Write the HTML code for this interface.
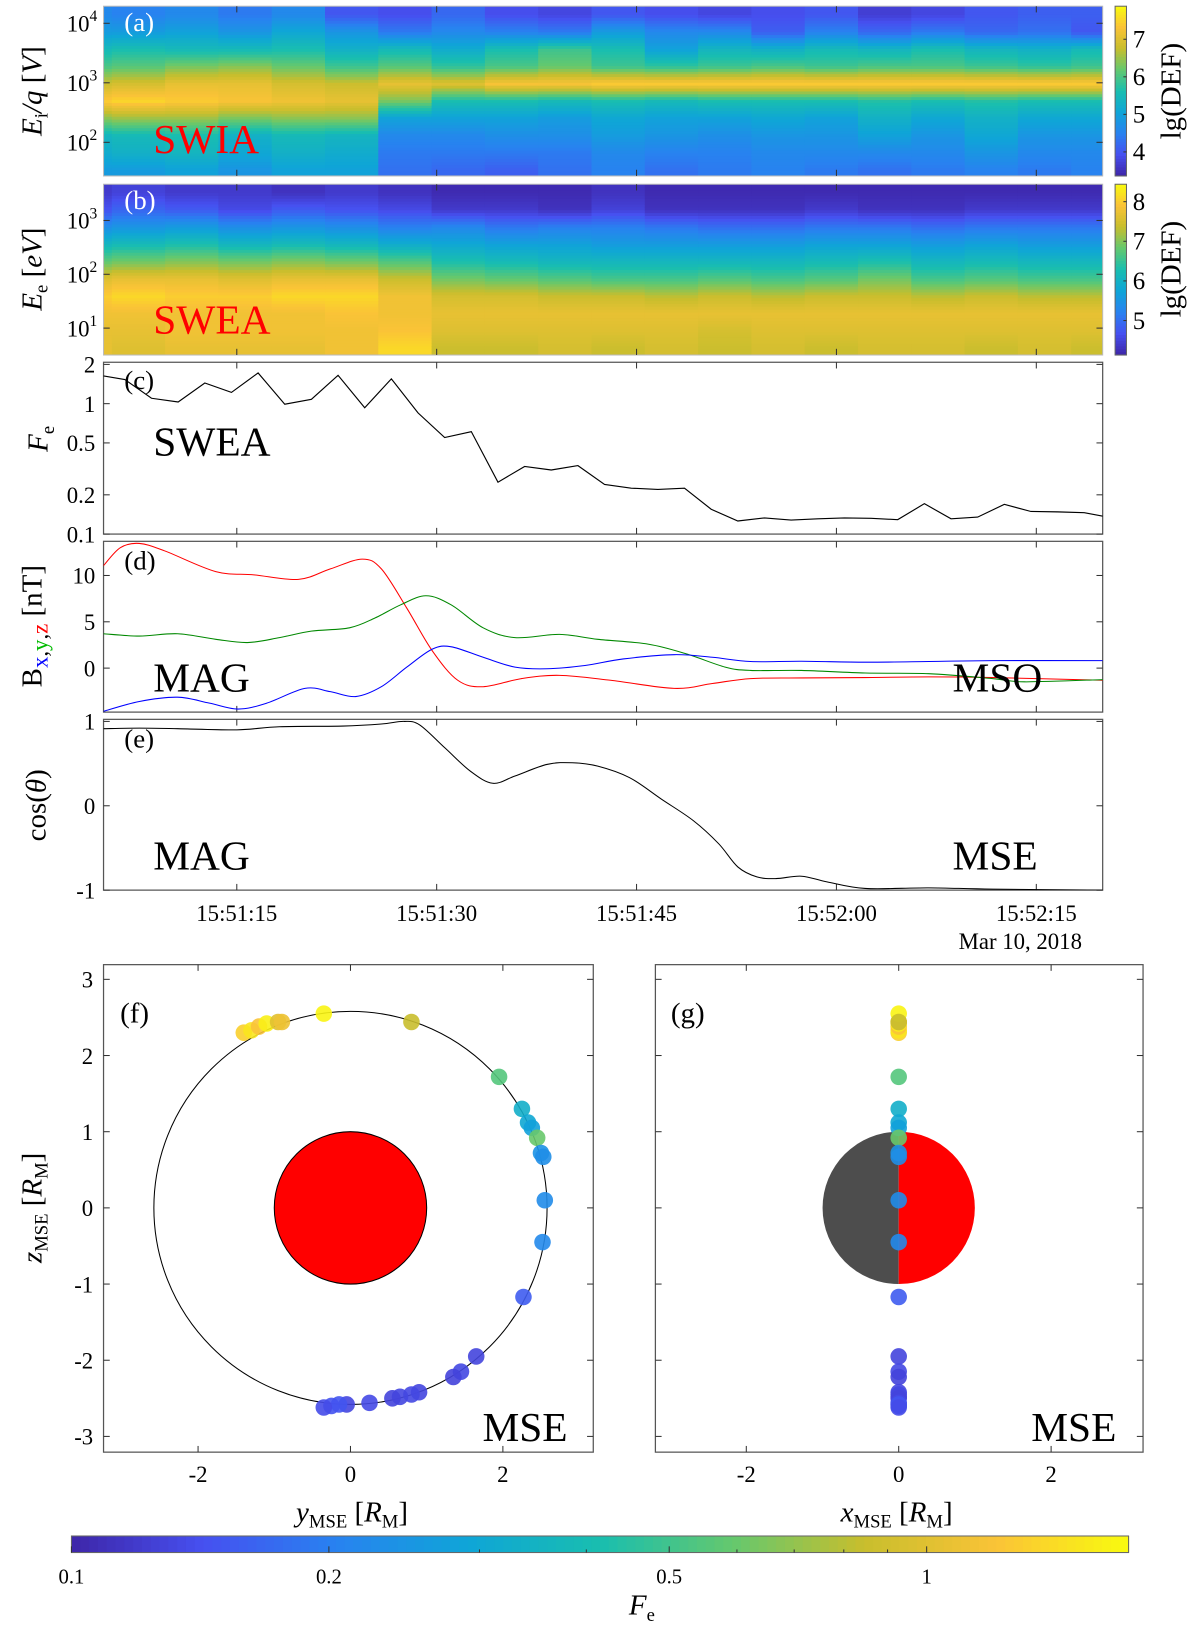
<!DOCTYPE html>
<html><head><meta charset="utf-8">
<style>
html,body{margin:0;padding:0;background:#fff;}
svg{display:block;font-family:"Liberation Serif",serif;}
</style></head>
<body>
<svg id="fig" xmlns="http://www.w3.org/2000/svg" width="1200" height="1625" viewBox="0 0 1159 1570" preserveAspectRatio="none">
<g id="g-a"></g>
<g id="g-b"></g>
<g id="g-cb"></g>
<g id="g-c"></g>
<g id="g-d"></g>
<g id="g-e"></g>
<g id="g-f"></g>
<g id="g-g"></g>
<g id="g-txt">
 <text x="120" y="30" font-size="26" fill="#fff">(a)</text>
 <text x="148" y="148" font-size="40" fill="#f00">SWIA</text>
 <text x="120" y="202" font-size="26" fill="#fff">(b)</text>
 <text x="148" y="322" font-size="40" fill="#f00">SWEA</text>
 <text x="120" y="376" font-size="26">(c)</text>
 <text x="148" y="440" font-size="40">SWEA</text>
 <text x="120" y="550" font-size="26">(d)</text>
 <text x="148" y="668" font-size="40">MAG</text>
 <text x="920" y="668" font-size="40">MSO</text>
 <text x="120" y="722" font-size="26">(e)</text>
 <text x="148" y="840" font-size="40">MAG</text>
 <text x="920" y="840" font-size="40">MSE</text>
 <text x="116" y="988" font-size="28">(f)</text>
 <text x="466" y="1392" font-size="40">MSE</text>
 <text x="648" y="988" font-size="28">(g)</text>
 <text x="996" y="1392" font-size="40">MSE</text>
 <text transform="translate(40,88) rotate(-90)" font-size="28" text-anchor="middle"><tspan font-style="italic">E</tspan><tspan font-size="18" dy="6">i</tspan><tspan dy="-6" font-style="italic">/q</tspan>  [<tspan font-style="italic">V</tspan>]</text>
 <text transform="translate(40,260) rotate(-90)" font-size="28" text-anchor="middle"><tspan font-style="italic">E</tspan><tspan font-size="18" dy="6">e</tspan><tspan dy="-6">  [</tspan><tspan font-style="italic">eV</tspan>]</text>
 <text transform="translate(46,424) rotate(-90)" font-size="28" text-anchor="middle"><tspan font-style="italic">F</tspan><tspan font-size="18" dy="6">e</tspan></text>
 <text transform="translate(40,605) rotate(-90)" font-size="28" text-anchor="middle">B<tspan font-size="22" dy="6" fill="#00f">x</tspan><tspan font-size="22">,</tspan><tspan font-size="22" fill="#0b0">y</tspan><tspan font-size="22">,</tspan><tspan font-size="22" fill="#f00">z</tspan><tspan dy="-6"> [nT]</tspan></text>
 <text transform="translate(44,778) rotate(-90)" font-size="28" text-anchor="middle">cos(<tspan font-style="italic">θ</tspan>)</text>
 <text x="1045" y="917" font-size="22" text-anchor="end">Mar 10, 2018</text>
 <text x="1140" y="88" transform="rotate(-90,1140,88)" font-size="28" text-anchor="middle">lg(DEF)</text>
 <text x="1140" y="260" transform="rotate(-90,1140,260)" font-size="28" text-anchor="middle">lg(DEF)</text>
 <text transform="translate(40,1167) rotate(-90)" font-size="28" text-anchor="middle"><tspan font-style="italic">z</tspan><tspan font-size="18" dy="6">MSE</tspan><tspan dy="-6">  [</tspan><tspan font-style="italic">R</tspan><tspan font-size="18" dy="6">M</tspan><tspan dy="-6">]</tspan></text>
 <text x="340" y="1470" font-size="28" text-anchor="middle"><tspan font-style="italic">y</tspan><tspan font-size="18" dy="6">MSE</tspan><tspan dy="-6">  [</tspan><tspan font-style="italic">R</tspan><tspan font-size="18" dy="6">M</tspan><tspan dy="-6">]</tspan></text>
 <text x="866" y="1470" font-size="28" text-anchor="middle"><tspan font-style="italic">x</tspan><tspan font-size="18" dy="6">MSE</tspan><tspan dy="-6">  [</tspan><tspan font-style="italic">R</tspan><tspan font-size="18" dy="6">M</tspan><tspan dy="-6">]</tspan></text>
 <text x="620" y="1560" font-size="28" text-anchor="middle"><tspan font-style="italic">F</tspan><tspan font-size="18" dy="6">e</tspan></text>
</g>
</svg>
<script>
const swiaRows = [4.14,3.85,3.57,3.28,3.0,2.71,2.43,2.14,1.86,1.57];
const swiaCols = [
 [4.6,4.9,5.5,6.0,6.8,7.4,6.4,5.4,5.2,4.9],
 [4.5,4.9,5.6,6.1,6.9,7.5,6.5,5.5,5.3,4.9],
 [4.6,5.0,5.5,6.3,7.1,7.4,6.5,5.6,5.4,5.0],
 [4.4,4.8,5.5,6.4,7.1,7.3,6.3,5.3,5.1,4.8],
 [4.6,5.1,5.6,6.2,6.9,7.2,6.4,5.5,5.3,5.0],
 [4.0,4.8,5.3,5.9,6.8,7.1,6.4,5.4,5.2,5.0],
 [3.9,4.4,5.5,6.1,7.1,6.3,5.0,4.6,4.4,4.3],
 [4.2,4.6,5.2,5.8,7.0,5.6,5.0,4.6,4.4,4.2],
 [3.9,4.5,5.6,6.0,7.3,5.6,5.0,4.7,4.4,4.1],
 [3.8,4.4,5.9,6.2,7.3,5.5,4.9,4.7,4.4,4.3],
 [4.0,4.9,5.6,5.9,7.4,5.6,5.1,4.9,4.6,4.5],
 [3.9,4.6,5.0,5.8,7.4,5.5,5.0,4.8,4.5,4.3],
 [3.8,4.6,5.4,5.9,7.4,5.6,5.0,4.7,4.5,4.4],
 [3.9,4.1,5.3,6.0,7.4,5.6,5.1,4.8,4.6,4.5],
 [4.0,4.5,5.5,5.9,7.4,5.6,5.0,4.8,4.6,4.4],
 [3.7,4.2,5.4,6.0,7.4,5.7,5.3,5.0,4.6,4.3],
 [3.8,4.4,5.6,6.0,7.4,5.6,5.1,4.8,4.6,4.4],
 [4.0,4.2,5.4,5.9,7.4,5.7,5.3,5.1,4.8,4.5],
 [4.1,4.3,5.3,5.8,7.4,5.6,5.1,4.8,4.6,4.4],
 [4.1,4.0,5.5,5.9,7.4,5.6,5.1,4.8,4.6,4.5]
];
const sweaRows = [3.51,3.19,2.87,2.56,2.24,1.92,1.61,1.29,0.97,0.66];
const sweaCols = [
 [4.4,4.7,5.4,6.1,6.8,7.6,8.0,7.8,7.7,7.7],
 [4.5,4.9,5.5,6.2,6.9,7.7,8.1,7.8,7.7,7.6],
 [4.4,4.8,5.6,6.3,7.0,7.7,8.0,7.8,7.8,7.7],
 [4.4,4.6,5.4,6.1,6.9,7.6,8.0,7.8,7.8,7.7],
 [4.3,4.8,5.5,6.2,7.0,7.7,8.1,7.8,7.8,7.7],
 [4.4,4.7,5.4,6.1,6.9,7.7,8.1,7.9,7.8,7.8],
 [4.3,4.6,5.2,5.9,6.7,7.4,7.8,7.8,7.9,8.1],
 [4.2,4.4,5.3,5.8,6.3,6.9,7.5,7.7,7.6,7.4],
 [4.2,4.4,5.1,5.7,6.2,6.8,7.5,7.7,7.6,7.4],
 [4.2,4.3,5.2,5.7,6.1,6.7,7.4,7.7,7.6,7.5],
 [4.3,4.5,5.2,5.6,6.1,6.6,7.4,7.7,7.6,7.4],
 [4.2,4.3,5.1,5.6,6.1,6.6,7.3,7.7,7.6,7.5],
 [4.2,4.3,5.0,5.6,6.1,6.7,7.4,7.7,7.5,7.4],
 [4.2,4.3,5.0,5.6,6.1,6.6,7.3,7.7,7.6,7.5],
 [4.2,4.4,5.1,5.7,6.2,6.7,7.4,7.7,7.6,7.4],
 [4.2,4.3,5.1,5.7,6.3,6.9,7.4,7.7,7.6,7.5],
 [4.2,4.3,5.0,5.6,6.1,6.6,7.3,7.7,7.6,7.5],
 [4.2,4.4,5.1,5.7,6.2,6.7,7.4,7.7,7.6,7.4],
 [4.2,4.4,5.1,5.6,6.1,6.6,7.3,7.7,7.6,7.5],
 [4.2,4.4,5.1,5.6,6.1,6.6,7.3,7.7,7.6,7.4]
];
const feTimes = [0,1.6,3.6,5.6,7.6,9.6,11.6,13.6,15.6,17.6,19.6,21.6,23.6,25.6,27.6,29.6,31.6,33.6,35.6,37.6,39.6,41.6,43.6,45.6,47.6,49.6,51.6,53.6,55.6,57.6,59.6,61.6,63.6,65.6,67.6,69.6,71.6,73.6,75];
const feValues = [1.63,1.53,1.10,1.03,1.44,1.22,1.72,0.99,1.08,1.65,0.93,1.55,0.85,0.55,0.61,0.25,0.33,0.31,0.335,0.24,0.225,0.22,0.225,0.155,0.126,0.133,0.128,0.131,0.133,0.132,0.129,0.171,0.131,0.135,0.169,0.149,0.148,0.146,0.137];
const bzTimes = [0,1.26,2.69,4.6,8.42,11.29,14.63,17.02,19.41,20.85,22.76,24.67,26.58,28.49,31.36,34.22,38.05,42.82,45.69,48.56,52.38,57.16,61.93,66.71,75];
const bzValues = [11.06,13.0,13.46,12.65,10.42,10.07,9.58,10.71,11.77,10.71,6.47,1.87,-1.31,-2.01,-1.13,-0.78,-1.31,-2.19,-1.66,-1.13,-1.06,-1.02,-0.95,-1.02,-1.31];
const byTimes = [0,2.69,5.56,8.42,10.81,13.2,15.59,18.46,20.37,22.28,24.19,26.1,28.49,30.88,34.22,37.09,40.91,43.78,46.65,48.56,52.38,57.16,61.93,66.71,69.1,75];
const byValues = [3.71,3.46,3.71,3.11,2.76,3.29,3.99,4.35,5.41,6.82,7.81,6.82,4.35,3.29,3.64,3.11,2.58,1.52,0.11,-0.25,-0.25,-0.53,-0.60,-1.13,-1.48,-1.24];
const bxTimes = [0,2.69,5.56,7.95,10.1,12.25,15.11,17.02,18.93,20.85,22.76,24.67,26.1,28.49,30.88,33.27,36.13,39.0,42.82,45.69,48.56,52.38,57.16,61.93,66.71,75];
const bxValues = [-4.66,-3.60,-3.14,-3.78,-4.42,-3.78,-2.19,-2.54,-3.07,-2.01,0.11,2.05,2.30,1.17,0.11,-0.07,0.28,0.99,1.45,1.17,0.71,0.74,0.64,0.71,0.81,0.81];
const cosTimes = [0,2.69,5.56,10,13.2,17.98,20.85,22.52,23.71,25.62,27.53,29.21,30.88,33.27,35.18,37.09,39.48,41.87,44.26,46.17,47.6,49.03,50.47,52.38,54.29,57.16,61.93,66.71,75];
const cosValues = [0.914,0.92,0.914,0.90,0.937,0.945,0.969,1.0,0.96,0.686,0.41,0.267,0.353,0.49,0.51,0.47,0.333,0.078,-0.176,-0.451,-0.725,-0.843,-0.863,-0.835,-0.902,-0.98,-0.973,-0.988,-1.0];
const posY = [-1.4,-1.3,-1.2,-1.1,-0.95,-0.9,-0.35,0.8,1.95,2.25,2.33,2.38,2.45,2.5,2.53,2.55,2.52,2.27,1.65,1.45,1.35,0.9,0.8,0.65,0.55,0.25,-0.05,-0.15,-0.25,-0.35];
const posZ = [2.3,2.33,2.38,2.42,2.44,2.44,2.55,2.44,1.72,1.3,1.12,1.05,0.92,0.72,0.67,0.1,-0.45,-1.17,-1.95,-2.15,-2.22,-2.42,-2.45,-2.48,-2.5,-2.56,-2.58,-2.58,-2.6,-2.62];
const posFe = [1.3,1.5,1.2,1.6,1.0,1.1,1.65,0.85,0.55,0.33,0.3,0.28,0.6,0.24,0.23,0.225,0.22,0.155,0.13,0.133,0.128,0.131,0.133,0.132,0.129,0.135,0.131,0.148,0.146,0.137];
const timeTickLabels = ["15:51:15","15:51:30","15:51:45","15:52:00","15:52:15"];
const timeTickValues = [10,25,40,55,70];
const feCbTicks = [0.1,0.2,0.5,1];

const NS="http://www.w3.org/2000/svg";
function mk(tag,attrs,parent){const e=document.createElementNS(NS,tag);for(const k in attrs)e.setAttribute(k,attrs[k]);if(parent)parent.appendChild(e);return e;}
const stops=[[0,62,38,168],[0.125,70,80,240],[0.25,40,130,240],[0.375,15,165,215],[0.5,25,190,175],[0.625,100,200,110],[0.75,200,190,45],[0.875,250,195,55],[1,249,251,14]];
function parula(t){t=Math.max(0,Math.min(1,t));for(let i=1;i<stops.length;i++){if(t<=stops[i][0]){const a=stops[i-1],b=stops[i],f=(t-a[0])/(b[0]-a[0]);return `rgb(${Math.round(a[1]+f*(b[1]-a[1]))},${Math.round(a[2]+f*(b[2]-a[2]))},${Math.round(a[3]+f*(b[3]-a[3]))})`;}}return "rgb(249,251,14)";}
const X0=100,X1=1065;
const xT=t=>X0+t*12.87;
const yA=l=>80-(l-3)*57.5;
const yB=l=>317-(l-1)*52;
const yC=v=>390-Math.log10(v)*126;
const yD=v=>645.5-v*8.95;
const yE=v=>778.5-v*81.5;

function spectro(g,rows,cols,yf,top,bot,vmin,vmax,name){
  const colStart=-3.38, colW=4;
  const clip=mk('clipPath',{id:'clip-'+name},g);
  mk('rect',{x:X0,y:top,width:X1-X0,height:bot-top},clip);
  const cg=mk('g',{'clip-path':'url(#clip-'+name+')'},g);
  const dl=rows[0]-rows[1];
  for(let c=0;c<cols.length;c++){
    const x0=xT(colStart+c*colW), x1=xT(colStart+(c+1)*colW);
    const sub=6;
    for(let r=0;r<rows.length;r++){
      for(let s=0;s<sub;s++){
        const lTop=rows[r]+dl/2-s*dl/sub, lBot=lTop-dl/sub;
        const lc=(lTop+lBot)/2;
        const pos=(rows[0]-lc)/dl;
        const i=Math.floor(pos), f=pos-i;
        const a=cols[c][Math.max(0,Math.min(rows.length-1,i))], b=cols[c][Math.max(0,Math.min(rows.length-1,i+1))];
        const v=a+(b-a)*f;
        const rect=mk('rect',{x:x0,y:yf(lTop),width:x1-x0+0.5,height:yf(lBot)-yf(lTop)+0.5,fill:parula((v-vmin)/(vmax-vmin))},cg);
        
        
      }
    }
  }
  const fr=mk('rect',{x:X0,y:top,width:X1-X0,height:bot-top,fill:'none',stroke:'#bbb','stroke-width':1},g);
  
  
}
function timeTicks(g,top,bot,labels){
  timeTickValues.forEach((t,i)=>{
    mk('line',{x1:xT(t),x2:xT(t),y1:bot,y2:bot-6,stroke:'#333','stroke-width':1},g);
    mk('line',{x1:xT(t),x2:xT(t),y1:top,y2:top+6,stroke:'#333','stroke-width':1},g);
    if(labels){const tx=mk('text',{x:xT(t),y:bot+30,'font-size':22,'text-anchor':'middle'},g);tx.textContent=timeTickLabels[i];
      
      }
  });
}
function frame(g,top,bot,name){
  const r=mk('rect',{x:X0,y:top,width:X1-X0,height:bot-top,fill:'none',stroke:'#555','stroke-width':1.2},g);
  
  
}
function yTick(g,y,label,sup){
  mk('line',{x1:X0,x2:X0+6,y1:y,y2:y,stroke:'#333'},g);
  mk('line',{x1:X1,x2:X1-6,y1:y,y2:y,stroke:'#333'},g);
  const t=mk('text',{x:sup?80:92,y:y+8,'font-size':22,'text-anchor':'end'},g);
  if(sup){t.textContent='10';const s=mk('tspan',{dy:-10,'font-size':15},t);s.textContent=sup;t.setAttribute('x',94);}
  else t.textContent=label;
  
  
}
function smoothPath(ts,vs,yf){
  const P=ts.map((t,i)=>[xT(Math.max(0,Math.min(75,t))),yf(vs[i])]);
  let d=`M${P[0][0]},${P[0][1]}`;
  for(let i=0;i<P.length-1;i++){
    const p0=P[Math.max(0,i-1)],p1=P[i],p2=P[i+1],p3=P[Math.min(P.length-1,i+2)];
    const c1=[p1[0]+(p2[0]-p0[0])/6,p1[1]+(p2[1]-p0[1])/6],c2=[p2[0]-(p3[0]-p1[0])/6,p2[1]-(p3[1]-p1[1])/6];
    d+=` C${c1[0]},${c1[1]} ${c2[0]},${c2[1]} ${p2[0]},${p2[1]}`;
  }
  return d;
}

const ga=document.getElementById('g-a');
spectro(ga,swiaRows,swiaCols,yA,6,170,3.36,7.88,'swia');
[[4,'4'],[3,'3'],[2,'2']].forEach(([l,s])=>yTick(ga,yA(l),'',s));
timeTicks(ga,6,170,false);
const gb=document.getElementById('g-b');
spectro(gb,sweaRows,sweaCols,yB,178,343,4.13,8.44,'swea');
[[3,'3'],[2,'2'],[1,'1']].forEach(([l,s])=>yTick(gb,yB(l),'',s));
timeTicks(gb,178,343,false);

const gcb=document.getElementById('g-cb');
function vbar(top,bot,vmin,vmax,ticks,name){
  const n=60;
  for(let i=0;i<n;i++){const y0=top+(bot-top)*i/n;const v=vmax-(vmax-vmin)*(i+0.5)/n;
    const r=mk('rect',{x:1077,y:y0,width:11,height:(bot-top)/n+0.5,fill:parula((v-vmin)/(vmax-vmin))},gcb);
    
    }
  mk('rect',{x:1077,y:top,width:11,height:bot-top,fill:'none',stroke:'#666'},gcb);
  ticks.forEach(v=>{const y=bot-(v-vmin)/(vmax-vmin)*(bot-top);
    mk('line',{x1:1085,x2:1088,y1:y,y2:y,stroke:'#333'},gcb);
    const t=mk('text',{x:1094,y:y+8,'font-size':24},gcb);t.textContent=v;
    
    });
}
vbar(6,170,3.36,7.88,[4,5,6,7],'colorbar-a');
vbar(178,343,4.13,8.44,[5,6,7,8],'colorbar-b');

const gc=document.getElementById('g-c');
frame(gc,350,516,'panel-c-frame');
[[2,'2'],[1,'1'],[0.5,'0.5'],[0.2,'0.2'],[0.1,'0.1']].forEach(([v,l])=>yTick(gc,yC(v),l));
timeTicks(gc,350,516,false);
{const clip=mk('clipPath',{id:'clip-c'},gc);mk('rect',{x:X0,y:350,width:X1-X0,height:166},clip);
 let d='';feTimes.forEach((t,i)=>{d+=(i?'L':'M')+xT(t)+','+yC(feValues[i]);});
 const p=mk('path',{d:d,fill:'none',stroke:'#000','stroke-width':1.1,'clip-path':'url(#clip-c)'},gc);
 
 }

const gd=document.getElementById('g-d');
frame(gd,523,688,'panel-d-frame');
[[10,'10'],[5,'5'],[0,'0']].forEach(([v,l])=>yTick(gd,yD(v),l));
timeTicks(gd,523,688,false);
{const clip=mk('clipPath',{id:'clip-d'},gd);mk('rect',{x:X0,y:523,width:X1-X0,height:165},clip);
 [[bzTimes,bzValues,'#f00','bz-line'],[byTimes,byValues,'#080','by-line'],[bxTimes,bxValues,'#00f','bx-line']].forEach(([ts,vs,c,n])=>{
  const p=mk('path',{d:smoothPath(ts,vs,yD),fill:'none',stroke:c,'stroke-width':1,'clip-path':'url(#clip-d)'},gd);
  
  
 });}

const ge=document.getElementById('g-e');
frame(ge,695,860,'panel-e-frame');
[[1,'1'],[0,'0'],[-1,'-1']].forEach(([v,l])=>yTick(ge,yE(v),l));
timeTicks(ge,695,860,true);
{const clip=mk('clipPath',{id:'clip-e'},ge);mk('rect',{x:X0,y:694,width:X1-X0,height:166},clip);
 const p=mk('path',{d:smoothPath(cosTimes,cosValues,yE),fill:'none',stroke:'#000','stroke-width':1,'clip-path':'url(#clip-e)'},ge);
 
 }

const U=73.6, ZC=1167;
const zf=v=>ZC-v*U;
const feNorm=v=>(Math.log10(v)+1)/1.236;
function orbitPanel(g,left,right,xc,isF){
  const fr=mk('rect',{x:left,y:932,width:right-left,height:471,fill:'none',stroke:'#555','stroke-width':1.2},g);
  
  
  [-2,0,2].forEach(v=>{const x=xc+v*U;
    mk('line',{x1:x,x2:x,y1:1403,y2:1397,stroke:'#333'},g);mk('line',{x1:x,x2:x,y1:932,y2:938,stroke:'#333'},g);
    const t=mk('text',{x:x,y:1432,'font-size':22,'text-anchor':'middle'},g);t.textContent=v;
    
    });
  [-3,-2,-1,0,1,2,3].forEach(v=>{const y=zf(v);
    mk('line',{x1:left,x2:left+6,y1:y,y2:y,stroke:'#333'},g);mk('line',{x1:right,x2:right-6,y1:y,y2:y,stroke:'#333'},g);
    if(isF){const t=mk('text',{x:90,y:y+8,'font-size':22,'text-anchor':'end'},g);t.textContent=v;
      
      }});
  if(isF){
    const o=mk('circle',{cx:xc,cy:ZC,r:2.58*U,fill:'none',stroke:'#000','stroke-width':1},g);
    
    
    const m=mk('circle',{cx:xc,cy:ZC,r:U,fill:'#f00',stroke:'#000','stroke-width':1},g);
    
    
  } else {
    const a=mk('path',{d:`M${xc},${ZC-U} A${U},${U} 0 0 0 ${xc},${ZC+U} Z`,fill:'#4d4d4d'},g);
    
    
    const b=mk('path',{d:`M${xc},${ZC-U} A${U},${U} 0 0 1 ${xc},${ZC+U} Z`,fill:'#f00'},g);
    
    
  }
  posZ.forEach((z,i)=>{
    const cx=isF?xc+posY[i]*U:xc;
    const c=mk('circle',{cx:cx,cy:zf(z),r:8,fill:parula(feNorm(posFe[i])),'fill-opacity':0.9},g);
    
    
  });
}
orbitPanel(document.getElementById('g-f'),100,573,338.5,true);
orbitPanel(document.getElementById('g-g'),633,1104,868,false);

{const g=gcb;const L=69,R=1090,T=1484,B=1500;const xCb=v=>L+(Math.log10(v)+1)*826;
 const n=120;for(let i=0;i<n;i++){const x=L+(R-L)*i/n;const r=mk('rect',{x:x,y:T,width:(R-L)/n+0.6,height:B-T,fill:parula((i+0.5)/n)},g);
  
  }
 mk('rect',{x:L,y:T,width:R-L,height:B-T,fill:'none',stroke:'#666'},g);
 [0.3,0.4,0.6,0.7,0.8,0.9].forEach(v=>{mk('line',{x1:xCb(v),x2:xCb(v),y1:B,y2:B-3,stroke:'#333'},g);});
 feCbTicks.forEach(v=>{const x=xCb(v);mk('line',{x1:x,x2:x,y1:B,y2:B-6,stroke:'#333'},g);
  const t=mk('text',{x:x,y:1530,'font-size':20,'text-anchor':'middle'},g);t.textContent=v;
  
  });}
</script>
</body></html>
